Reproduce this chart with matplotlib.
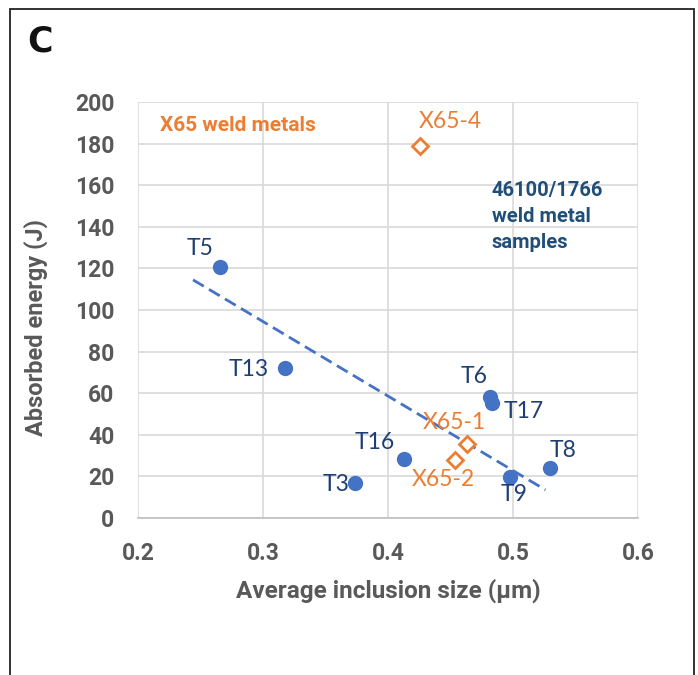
import matplotlib
matplotlib.use("Agg")
import matplotlib.pyplot as plt
from matplotlib.patches import Rectangle

plt.rcParams["font.family"] = ["Lato", "DejaVu Sans"]
BOLD = ["Roboto", "DejaVu Sans"]

# 46100/1766 weld metal samples
t_names = ["T5", "T13", "T3", "T16", "T6", "T17", "T9", "T8"]
t_size = [0.266, 0.318, 0.374, 0.413, 0.482, 0.483, 0.498, 0.530]
t_energy = [120.5, 72, 17, 28.5, 58, 55.5, 19.5, 24]

# X65 weld metals
x65_names = ["X65-4", "X65-1", "X65-2"]
x65_size = [0.426, 0.463, 0.454]
x65_energy = [179, 35.5, 28]

# trendline as drawn in the chart
trend_x = [0.244, 0.526]
trend_y = [114.5, 13.5]

blue = "#4472C4"
dark_blue = "#1F3F73"
orange = "#ED7D31"
grey = "#595959"

fig = plt.figure(figsize=(6.98, 6.75), dpi=100)
ax = fig.add_axes([0.1977, 0.2326, 0.7163, 0.6163])

# outer frame (open at the bottom)
fig.patches.append(Rectangle((0.0143, -0.05), 0.9797, 1.0365, transform=fig.transFigure,
                             fill=False, edgecolor="#222222", linewidth=1.3))
fig.text(0.0573, 0.9385, "C", fontsize=25, fontweight="bold", family="DejaVu Sans",
         ha="center", va="center", color="#111111")

ax.plot(trend_x, trend_y, linestyle=(0, (4.5, 2.2)), color=blue, linewidth=2, zorder=2)
ax.plot(t_size, t_energy, "o", color=blue, markersize=10, zorder=3)
ax.plot(x65_size, x65_energy, "D", markerfacecolor="white", markeredgecolor=orange,
        markeredgewidth=2, markersize=8, zorder=3)

# point labels
t_label_pos = {
    "T5": (0.2496, 129.8), "T13": (0.2888, 71.5), "T3": (0.3584, 16.3),
    "T16": (0.3896, 36.5), "T6": (0.4688, 67.8), "T17": (0.5088, 51.4),
    "T9": (0.5008, 11.5), "T8": (0.5400, 32.6),
}
for name in t_names:
    px, py = t_label_pos[name]
    ax.text(px, py, name, fontsize=16.5, color=dark_blue, ha="center", va="center")

x65_label_pos = {"X65-4": (0.4496, 190.4), "X65-1": (0.4528, 46.0), "X65-2": (0.4440, 18.3)}
for name in x65_names:
    px, py = x65_label_pos[name]
    ax.text(px, py, name, fontsize=16.5, color=orange, ha="center", va="center")

ax.text(0.2176, 188.8, "X65 weld metals", fontsize=15, fontweight="bold", family=BOLD,
        color=orange, ha="left", va="center")
ax.text(0.4832, 145, "46100/1766\nweld metal\nsamples", fontsize=14.5, fontweight="bold",
        family=BOLD, color="#1F4E79", ha="left", va="center", linespacing=1.45)

ax.set_xlim(0.2, 0.6)
ax.set_ylim(0, 200)
ax.set_xticks([0.2, 0.3, 0.4, 0.5, 0.6])
ax.set_xticklabels(["0.2", "0.3", "0.4", "0.5", "0.6"])
ax.set_yticks(range(0, 201, 20))
ax.grid(True, color="#D9D9D9", linewidth=1.2)
ax.set_axisbelow(True)
for side in ["top", "right", "left"]:
    ax.spines[side].set_visible(False)
ax.spines["bottom"].set_color("#BFBFBF")
ax.spines["bottom"].set_linewidth(1.2)
ax.tick_params(axis="y", length=0, labelsize=16.5, labelcolor=grey, pad=17)
ax.tick_params(axis="x", length=0, labelsize=16.5, labelcolor=grey, pad=17)
for lbl in ax.get_xticklabels() + ax.get_yticklabels():
    lbl.set_fontweight("bold")
    lbl.set_family(BOLD)

ax.set_xlabel("Average inclusion size (µm)", fontsize=17.5, fontweight="bold",
              family=BOLD, color=grey)
ax.set_ylabel("Absorbed energy (J)", fontsize=17, fontweight="bold",
              family=BOLD, color=grey)
ax.xaxis.set_label_coords(0.5, -0.145)
ax.yaxis.set_label_coords(-0.18, 0.458)

fig.savefig("out.png", dpi=100)
